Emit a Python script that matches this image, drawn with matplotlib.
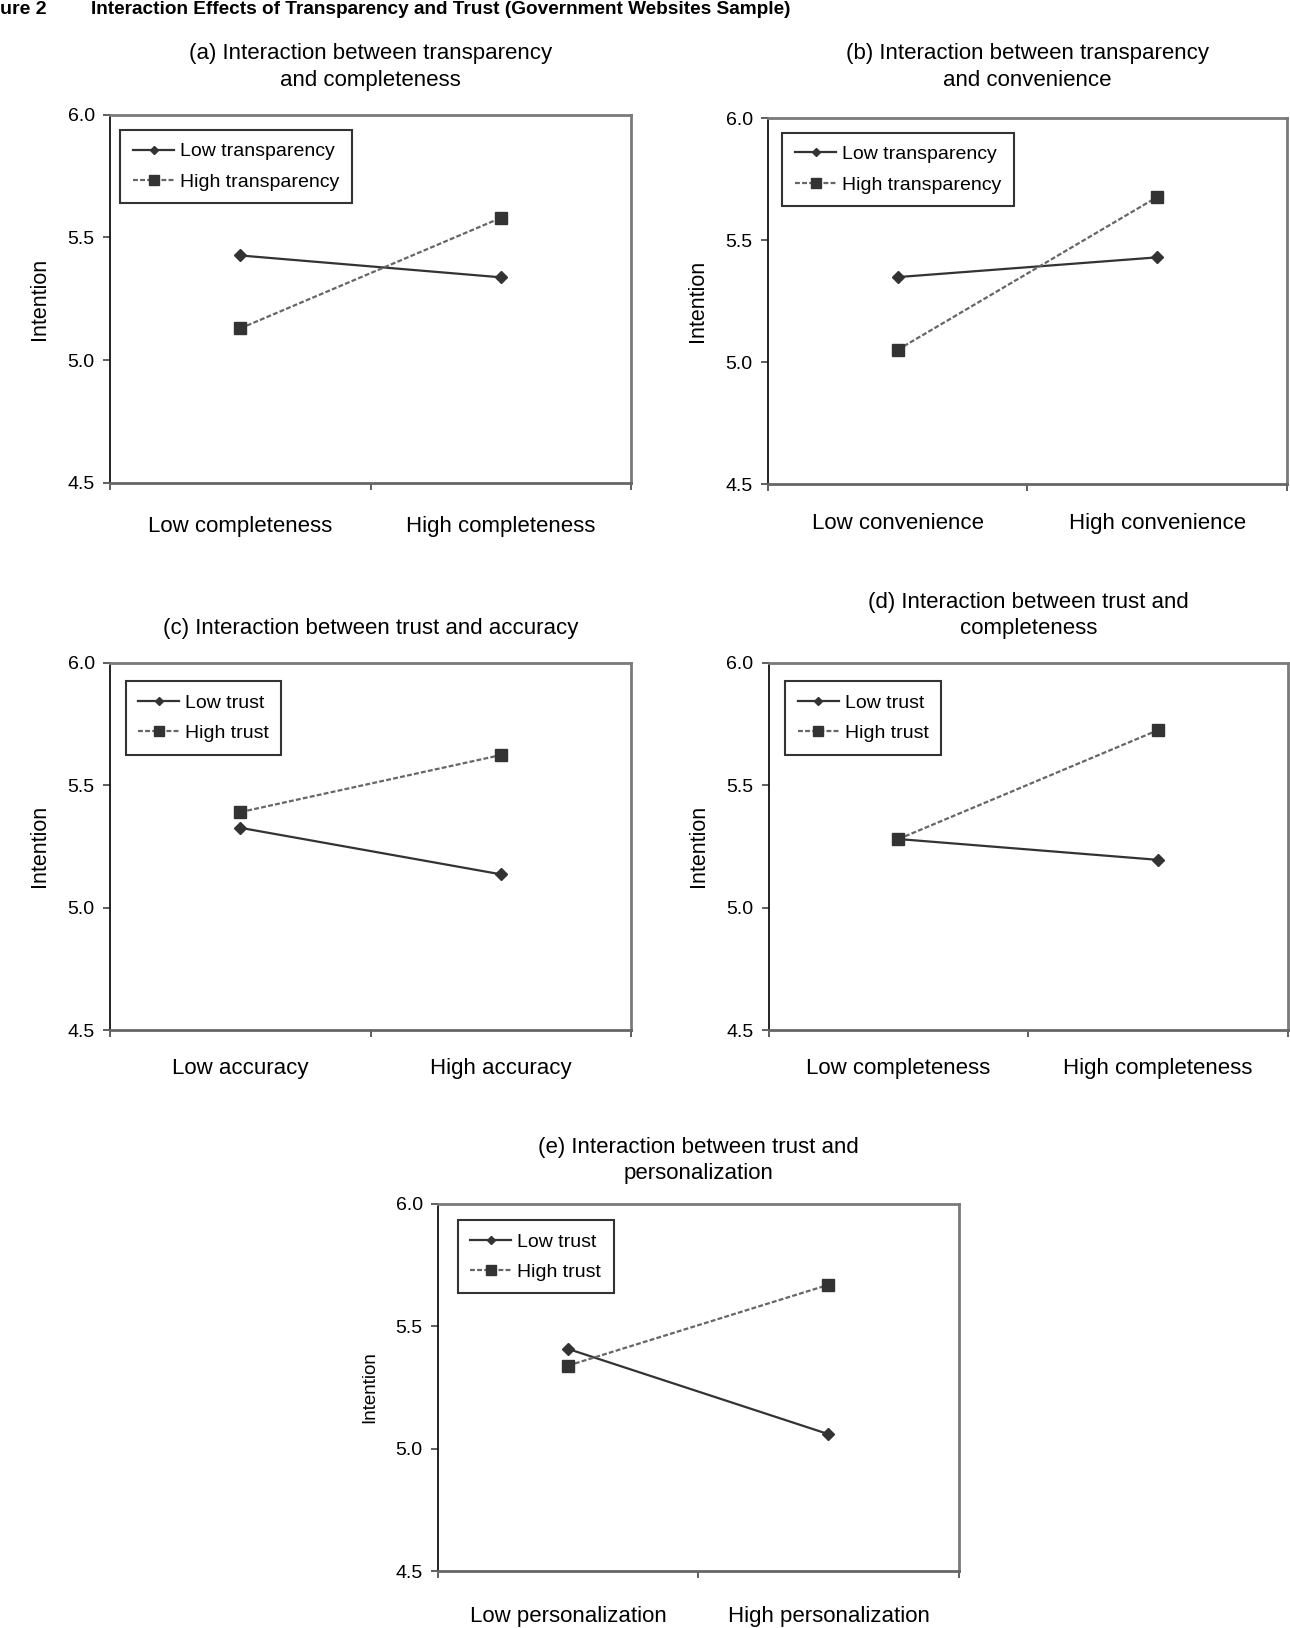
import numpy as np
import matplotlib
matplotlib.use("Agg")
import matplotlib.pyplot as plt

plt.rcParams['font.family'] = ['Liberation Sans', 'DejaVu Sans']

# data (Intention means)
titles = ["(a) Interaction between transparency\nand completeness",
          "(b) Interaction between transparency\nand convenience",
          "(c) Interaction between trust and accuracy",
          "(d) Interaction between trust and\ncompleteness",
          "(e) Interaction between trust and\npersonalization"]
xcats = [["Low completeness", "High completeness"],
         ["Low convenience", "High convenience"],
         ["Low accuracy", "High accuracy"],
         ["Low completeness", "High completeness"],
         ["Low personalization", "High personalization"]]
series_names = [["Low transparency", "High transparency"],
                ["Low transparency", "High transparency"],
                ["Low trust", "High trust"],
                ["Low trust", "High trust"],
                ["Low trust", "High trust"]]
low_vals = [[5.426, 5.337], [5.348, 5.429], [5.326, 5.136], [5.280, 5.195], [5.407, 5.059]]
high_vals = [[5.129, 5.579], [5.050, 5.676], [5.390, 5.623], [5.280, 5.725], [5.339, 5.669]]
yticks = [4.5, 5.0, 5.5, 6.0]

# layout (figure fractions) per panel
rects = [[0.0853, 0.7035, 0.4039, 0.2261],
         [0.5953, 0.7027, 0.4023, 0.2248],
         [0.0853, 0.3673, 0.4039, 0.2256],
         [0.5958, 0.3673, 0.4026, 0.2256],
         [0.3395, 0.0350, 0.4036, 0.2256]]
title_y = [1.13, 1.139, 1.093, 1.129, 1.118]
leg_anchor = [(0.020, 0.958), (0.028, 0.959), (0.030, 0.949), (0.032, 0.949), (0.038, 0.955)]
xlab_pad = [24, 21, 20, 20, 25]
ylab_size = [15.5, 15.5, 15.5, 15.5, 13.5]

fig = plt.figure(figsize=(12.9, 16.28), dpi=100)

fig.text(0.0, 1 - 9.5 / 1628, "ure 2", fontsize=14, fontweight='bold',
         ha='left', va='center')
fig.text(91 / 1290, 1 - 9.5 / 1628,
         "Interaction Effects of Transparency and Trust (Government Websites Sample)",
         fontsize=13.7, fontweight='bold', ha='left', va='center')

xpos = [0.5, 1.5]
for i in range(5):
    ax = fig.add_axes(rects[i])
    ax.plot(xpos, low_vals[i], color='#333333', lw=1.6, ls='-', marker='D',
            markersize=6, label=series_names[i][0])
    ax.plot(xpos, high_vals[i], color='#666666', lw=1.6, ls=(0, (2.2, 1.0)),
            marker='s', markersize=8.5, markerfacecolor='#333333',
            markeredgecolor='#333333', label=series_names[i][1])
    ax.set_xlim(0, 2)
    ax.set_ylim(4.5, 6.0)
    ax.set_yticks(yticks)
    ax.set_yticklabels(["%.1f" % v for v in yticks])
    ax.set_xticks([0, 1, 2])
    ax.set_xticklabels([])
    ax.set_xticks(xpos, minor=True)
    ax.set_xticklabels(xcats[i], minor=True)
    ax.tick_params(axis='x', which='major', direction='out', length=5, width=1.2, color='#444444')
    ax.tick_params(axis='x', which='minor', length=0, pad=xlab_pad[i], labelsize=16)
    ax.tick_params(axis='y', direction='out', length=5, width=1.2, color='#444444',
                   pad=6, labelsize=14)
    ax.spines['left'].set_color('#111111')
    ax.spines['left'].set_linewidth(1.3)
    ax.spines['bottom'].set_color('#666666')
    ax.spines['bottom'].set_linewidth(2)
    for s in ['top', 'right']:
        ax.spines[s].set_color('#7a7a7a')
        ax.spines[s].set_linewidth(2)
    ax.set_ylabel("Intention", fontsize=ylab_size[i])
    ax.yaxis.set_label_coords(-0.115, 0.5)
    ax.text(0.5, title_y[i], titles[i], transform=ax.transAxes, ha='center',
            va='center', fontsize=16, linespacing=1.35)
    leg = ax.legend(loc='upper left', bbox_to_anchor=leg_anchor[i], borderaxespad=0,
                    fontsize=14, frameon=True, fancybox=False, handlelength=2.1,
                    handletextpad=0.3, labelspacing=0.65, borderpad=0.65)
    leg.get_frame().set_edgecolor('black')
    leg.get_frame().set_linewidth(1.5)
    hs = leg.legend_handles
    hs[0].set_markersize(4.5)
    hs[1].set_markersize(7.5)

fig.savefig("out.png", dpi=100)
